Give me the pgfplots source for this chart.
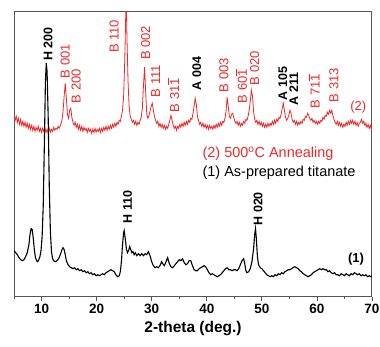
\documentclass[border=0pt]{standalone}
\usepackage{pgfplots}
\pgfplotsset{compat=1.18}
\usepackage{fontspec}
\setmainfont{Liberation Sans}
\definecolor{xrdred}{RGB}{238,40,40}
\definecolor{axgray}{RGB}{85,85,85}
\newcommand\ob[1]{\leavevmode\vbox{\hrule height0.6pt\kern1.2pt\hbox{#1}}}
\begin{document}
\begin{tikzpicture}
\begin{axis}[
 scale only axis, width=357bp, height=285bp,
 xmin=5, xmax=70, ymin=0, ymax=285,
 ytick=\empty, xtick={10,20,...,70}, minor xtick={5,15,...,65},
 xtick pos=bottom, tick align=outside,
 major tick length=4bp, minor tick length=2.5bp,
 axis line style={axgray, line width=1bp},
 every tick/.style={axgray, line width=0.8bp},
 /pgf/number format/assume math mode=true,
 xticklabel style={font=\fontsize{13.5}{15}\selectfont\bfseries, yshift=0bp},
 xlabel={2-theta (deg.)}, xlabel style={font=\fontsize{15.5}{17}\selectfont\bfseries, yshift=-1bp},
]
\addplot[xrdred, line width=0.8bp] coordinates {
(5.0,181)(5.2,176)(5.4,180)(5.6,174)(5.8,178)(6.0,172)(6.2,177)(6.4,171)(6.6,175)(6.8,170)(7.0,174)(7.2,169)(7.4,173)(7.6,168)(7.8,172)(8.0,167)(8.2,171)(8.4,166)(8.6,170)(8.8,165)(9.0,169)(9.2,166)(9.4,170)(9.6,165)(9.8,168)(10.0,164)(10.2,168)(10.4,165)(10.6,169)(10.8,164)(11.0,167)(11.2,163)(11.4,168)(11.6,164)(11.8,167)(12.0,165)(12.2,169)(12.4,166)(12.6,168)(12.8,167)(13.0,170)(13.2,168)(13.5,172)(13.7,176)(13.9,185)(14.1,200)(14.3,213)(14.5,198)(14.7,182)(14.9,178)(15.1,186)(15.3,188)(15.5,179)(15.7,174)(15.9,171)(16.1,174)(16.3,169)(16.5,172)(16.7,167)(16.9,171)(17.1,166)(17.3,170)(17.5,165)(17.7,169)(17.9,166)(18.1,168)(18.3,164)(18.5,168)(18.7,165)(18.9,167)(19.1,163)(19.3,167)(19.5,164)(19.7,168)(19.9,164)(20.1,167)(20.3,165)(20.5,168)(20.7,164)(20.9,168)(21.1,165)(21.3,169)(21.5,166)(21.7,170)(21.9,166)(22.1,170)(22.3,167)(22.5,171)(22.7,168)(22.9,172)(23.1,169)(23.3,173)(23.5,170)(23.7,174)(23.9,172)(24.1,176)(24.3,175)(24.5,180)(24.7,186)(24.9,200)(25.1,235)(25.3,285)(25.4,292)(25.5,260)(25.7,215)(25.9,190)(26.1,180)(26.3,177)(26.5,174)(26.7,176)(26.9,172)(27.1,175)(27.3,171)(27.5,174)(27.7,172)(27.9,176)(28.1,179)(28.3,188)(28.5,210)(28.7,229)(28.9,205)(29.1,182)(29.3,178)(29.5,181)(29.7,185)(29.9,190)(30.1,193)(30.3,186)(30.5,180)(30.7,176)(30.9,173)(31.1,175)(31.3,170)(31.5,173)(31.7,169)(31.9,172)(32.1,168)(32.3,171)(32.5,167)(32.7,170)(32.9,168)(33.1,172)(33.3,176)(33.5,181)(33.7,176)(33.9,171)(34.1,168)(34.3,170)(34.5,166)(34.7,170)(34.9,168)(35.1,172)(35.3,169)(35.5,173)(35.7,170)(35.9,174)(36.1,171)(36.3,175)(36.5,172)(36.7,176)(36.9,174)(37.1,178)(37.3,177)(37.5,183)(37.7,190)(37.9,198)(38.1,192)(38.3,180)(38.5,176)(38.7,172)(38.9,174)(39.1,170)(39.3,173)(39.5,169)(39.7,172)(39.9,168)(40.1,171)(40.3,167)(40.5,171)(40.7,168)(40.9,170)(41.1,167)(41.3,171)(41.5,168)(41.7,172)(41.9,169)(42.1,173)(42.3,170)(42.5,174)(42.7,171)(42.9,175)(43.1,174)(43.3,178)(43.5,185)(43.7,199)(43.9,190)(44.1,180)(44.3,178)(44.5,182)(44.7,183)(44.9,179)(45.1,175)(45.3,173)(45.5,175)(45.7,171)(45.9,174)(46.1,170)(46.3,173)(46.5,171)(46.7,175)(46.9,173)(47.1,177)(47.3,176)(47.5,180)(47.7,186)(47.9,195)(48.1,206)(48.3,200)(48.5,185)(48.7,177)(48.9,174)(49.1,176)(49.3,172)(49.5,175)(49.7,171)(49.9,174)(50.1,170)(50.3,173)(50.5,169)(50.7,172)(50.9,169)(51.1,173)(51.3,170)(51.5,173)(51.7,171)(51.9,175)(52.1,172)(52.3,176)(52.5,173)(52.7,177)(52.9,175)(53.1,179)(53.3,178)(53.5,182)(53.7,188)(53.9,193)(54.1,186)(54.3,179)(54.5,176)(54.7,178)(54.9,181)(55.1,186)(55.3,183)(55.5,177)(55.7,174)(55.9,176)(56.1,172)(56.3,175)(56.5,171)(56.7,174)(56.9,172)(57.1,175)(57.3,173)(57.5,177)(57.7,176)(57.9,180)(58.1,179)(58.3,183)(58.5,181)(58.7,178)(58.9,176)(59.1,178)(59.3,174)(59.5,176)(59.7,173)(59.9,175)(60.1,172)(60.3,175)(60.5,173)(60.7,176)(60.9,175)(61.1,179)(61.3,177)(61.5,181)(61.7,180)(61.9,184)(62.1,182)(62.3,186)(62.5,183)(62.7,186)(62.9,181)(63.1,177)(63.3,174)(63.5,172)(63.7,175)(63.9,171)(64.1,174)(64.3,170)(64.5,173)(64.7,169)(64.9,172)(65.1,170)(65.3,174)(65.5,171)(65.7,175)(65.9,172)(66.1,176)(66.3,173)(66.5,176)(66.7,172)(66.9,175)(67.1,171)(67.3,174)(67.5,170)(67.7,173)(67.9,174)(68.1,177)(68.3,173)(68.5,175)(68.7,171)(68.9,173)(69.1,169)(69.3,172)(69.5,168)(69.7,171)(69.9,167)(70.0,170)
};
\addplot[black, line width=1.1bp] coordinates {
(5.0,46)(5.3,44)(5.6,42)(5.9,39)(6.2,37)(6.5,36)(6.8,37)(7.1,40)(7.4,44)(7.7,52)(7.9,62)(8.1,68)(8.3,67)(8.5,58)(8.7,46)(8.9,39)(9.1,36)(9.3,35)(9.5,37)(9.7,40)(9.9,46)(10.1,60)(10.3,90)(10.5,150)(10.7,215)(10.85,233)(11.0,225)(11.2,180)(11.4,110)(11.6,65)(11.8,45)(12.0,38)(12.2,36)(12.5,35)(12.8,36)(13.1,38)(13.4,42)(13.7,47)(13.9,49)(14.1,47)(14.3,42)(14.5,36)(14.8,32)(15.1,30)(15.4,29)(15.7,28)(16.0,29)(16.3,27)(16.6,28)(16.9,26)(17.2,27)(17.5,25)(17.8,26)(18.1,24)(18.4,25)(18.7,23)(19.0,24)(19.3,22)(19.6,23)(19.9,21)(20.2,22)(20.5,21)(20.8,22)(21.1,23)(21.4,22)(21.7,24)(22.0,25)(22.3,26)(22.6,27)(22.9,26)(23.2,25)(23.5,22)(23.8,20)(24.1,21)(24.3,25)(24.5,35)(24.7,52)(24.9,64)(25.0,66)(25.2,58)(25.4,48)(25.6,44)(25.8,46)(26.0,50)(26.2,47)(26.4,44)(26.6,45)(26.8,42)(27.0,44)(27.3,41)(27.6,43)(27.9,41)(28.2,43)(28.5,41)(28.8,43)(29.1,42)(29.4,45)(29.7,41)(30.0,35)(30.3,31)(30.6,29)(30.9,30)(31.2,29)(31.5,31)(31.8,35)(32.0,33)(32.3,31)(32.6,35)(32.9,39)(33.2,33)(33.5,30)(33.8,29)(34.1,31)(34.4,33)(34.7,35)(35.0,37)(35.3,36)(35.6,38)(35.9,34)(36.2,32)(36.5,33)(36.8,36)(37.1,36)(37.4,31)(37.7,27)(38.0,26)(38.3,26)(38.6,28)(38.9,29)(39.2,30)(39.5,31)(39.8,30)(40.1,27)(40.4,24)(40.7,22)(41.0,23)(41.3,22)(41.6,21)(41.9,20)(42.2,21)(42.5,22)(42.8,24)(43.1,26)(43.4,28)(43.7,29)(44.0,27)(44.3,27)(44.6,26)(44.9,27)(45.2,27)(45.5,26)(45.8,28)(46.1,32)(46.4,36)(46.7,38)(46.9,33)(47.1,26)(47.3,24)(47.6,25)(47.9,28)(48.2,35)(48.5,48)(48.7,62)(48.85,68)(49.0,58)(49.2,40)(49.4,32)(49.7,29)(50.0,28)(50.3,26)(50.6,24)(50.9,22)(51.2,21)(51.5,20)(51.8,21)(52.1,20)(52.4,22)(52.7,21)(53.0,23)(53.3,22)(53.6,24)(53.9,23)(54.2,25)(54.5,26)(54.8,27)(55.1,27)(55.4,28)(55.7,29)(56.0,30)(56.3,29)(56.6,28)(56.9,26)(57.2,25)(57.5,23)(57.8,22)(58.1,21)(58.4,20)(58.7,21)(59.0,22)(59.3,24)(59.6,25)(59.9,26)(60.2,27)(60.5,28)(60.8,27)(61.1,28)(61.4,27)(61.7,27)(62.0,25)(62.3,26)(62.6,24)(62.9,23)(63.2,24)(63.5,22)(63.8,22)(64.1,21)(64.4,23)(64.7,22)(65.0,21)(65.3,23)(65.6,22)(65.9,21)(66.2,23)(66.5,22)(66.8,24)(67.1,23)(67.4,22)(67.7,23)(68.0,21)(68.3,22)(68.6,21)(68.9,22)(69.2,20)(69.5,21)(69.8,20)(70.0,21)
};
% peak labels
\tikzset{pk/.style={rotate=90, anchor=west, inner sep=0pt, font=\fontsize{13}{15}\selectfont},
         pkb/.style={pk, font=\fontsize{12.5}{15}\selectfont\bfseries}}
\node[pkb, black] at (axis cs:11.2,235) {H 200};
\node[pk, xrdred] at (axis cs:14.3,218) {B 001};
\node[pk, xrdred] at (axis cs:16.3,193) {B 200};
\node[pk, xrdred] at (axis cs:23.2,243) {B 110};
\node[pk, xrdred] at (axis cs:28.9,236) {B 002};
\node[pk, xrdred] at (axis cs:30.7,199) {B 111};
\node[pk, xrdred] at (axis cs:34.0,184) {B 31\ob{1}};
\node[pkb, black] at (axis cs:38.2,206) {A 004};
\node[pk, xrdred] at (axis cs:43.1,204) {B 003};
\node[pk, xrdred] at (axis cs:46.3,193) {B 60\ob{1}};
\node[pk, xrdred] at (axis cs:48.7,211) {B 020};
\node[pkb, black] at (axis cs:53.8,196) {A 105};
\node[pkb, black] at (axis cs:55.8,191) {A 211};
\node[pk, xrdred] at (axis cs:59.5,188) {B 71\ob{1}};
\node[pk, xrdred] at (axis cs:63.1,194) {B 313};
\node[pkb, black] at (axis cs:25.6,73) {H 110};
\node[pkb, black] at (axis cs:49.3,71) {H 020};
\node[xrdred, font=\fontsize{13}{15}\selectfont] at (axis cs:67.5,189) {(2)};
\node[black, font=\fontsize{13}{15}\selectfont\bfseries] at (axis cs:67.1,38) {(1)};
\node[xrdred, anchor=west, inner sep=0pt, font=\fontsize{14.5}{17}\selectfont] at (axis cs:39.2,143) {(2) 500\textsuperscript{o}C Annealing};
\node[black, anchor=west, inner sep=0pt, font=\fontsize{14.5}{17}\selectfont] at (axis cs:39.2,124) {(1) As-prepared titanate};
\end{axis}
\pgfresetboundingbox
\path[use as bounding box] ([shift={(-14bp,-50bp)}]current axis.south west) rectangle ([shift={(8bp,11bp)}]current axis.north east);
\end{tikzpicture}
\end{document}
